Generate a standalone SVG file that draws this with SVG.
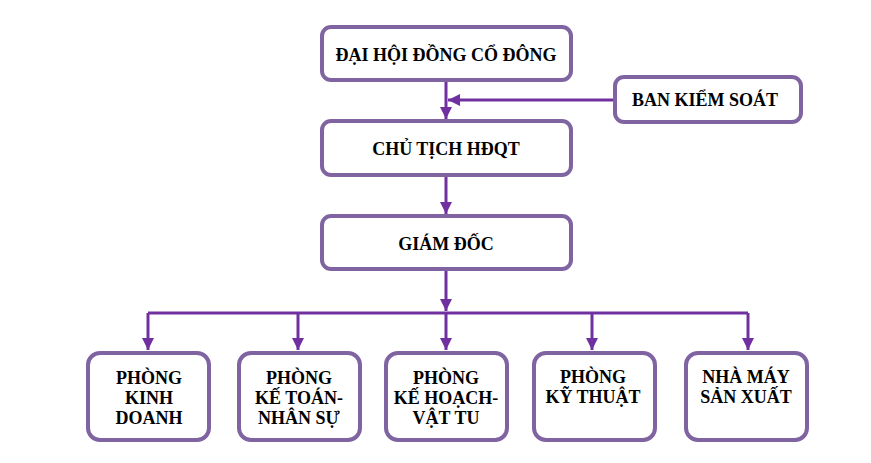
<svg xmlns="http://www.w3.org/2000/svg" width="871" height="463" viewBox="0 0 871 463">
<style>
.box{fill:#fff;stroke:#8064A2;stroke-width:4}
.t{font-family:"Liberation Serif","Times New Roman",serif;font-weight:bold;font-size:18px;fill:#000;text-anchor:middle}
.c{stroke:#7030A0;stroke-width:3;fill:none}
</style>
<defs>
<marker id="a" viewBox="0 0 10 10" refX="10" refY="5" markerWidth="4" markerHeight="4" orient="auto" markerUnits="strokeWidth">
<path d="M0,0 L10,5 L0,10 z" fill="#7030A0"/>
</marker>
</defs>
<rect width="871" height="463" fill="#fff"/>
<g id="connectors">
<path class="c" d="M446,80 V119" marker-end="url(#a)"/>
<path class="c" d="M615,100 H448" marker-end="url(#a)"/>
<path class="c" d="M446,175 V214" marker-end="url(#a)"/>
<path class="c" d="M446,269 V311" marker-end="url(#a)"/>
<path class="c" d="M148,313 H748"/>
<path class="c" d="M148,313 V350" marker-end="url(#a)"/>
<path class="c" d="M298,313 V350" marker-end="url(#a)"/>
<path class="c" d="M446,313 V350" marker-end="url(#a)"/>
<path class="c" d="M592,313 V350" marker-end="url(#a)"/>
<path class="c" d="M748,313 V350" marker-end="url(#a)"/>
</g>
<g id="dhcd"><rect class="box" x="322" y="27" width="249" height="53" rx="9"/><text class="t" x="446" y="61">ĐẠI HỘI ĐỒNG CỔ ĐÔNG</text></g>
<g id="bks"><rect class="box" x="615" y="77" width="186" height="45" rx="9"/><text class="t" x="705" y="106">BAN KIỂM SOÁT</text></g>
<g id="ct"><rect class="box" x="322" y="121" width="249" height="54" rx="9"/><text class="t" x="446" y="155">CHỦ TỊCH HĐQT</text></g>
<g id="gd"><rect class="box" x="322" y="216" width="249" height="53" rx="9"/><text class="t" x="446" y="250">GIÁM ĐỐC</text></g>
<g id="kd"><rect class="box" x="88" y="353" width="121" height="87" rx="12"/><text class="t" x="149" y="384">PHÒNG</text><text class="t" x="149" y="404">KINH</text><text class="t" x="149" y="424">DOANH</text></g>
<g id="kt"><rect class="box" x="239" y="353" width="121" height="87" rx="12"/><text class="t" x="299" y="384">PHÒNG</text><text class="t" x="299" y="404">KẾ TOÁN-</text><text class="t" x="299" y="424">NHÂN SỰ</text></g>
<g id="kh"><rect class="box" x="386" y="353" width="121" height="87" rx="12"/><text class="t" x="446" y="384">PHÒNG</text><text class="t" x="446" y="404">KẾ HOẠCH-</text><text class="t" x="446" y="424">VẬT TU</text></g>
<g id="kyt"><rect class="box" x="534" y="353" width="121" height="87" rx="12"/><text class="t" x="593" y="383">PHÒNG</text><text class="t" x="593" y="403">KỸ THUẬT</text></g>
<g id="nm"><rect class="box" x="686" y="353" width="121" height="87" rx="12"/><text class="t" x="746" y="383">NHÀ MÁY</text><text class="t" x="746" y="403">SẢN XUẤT</text></g>
</svg>
